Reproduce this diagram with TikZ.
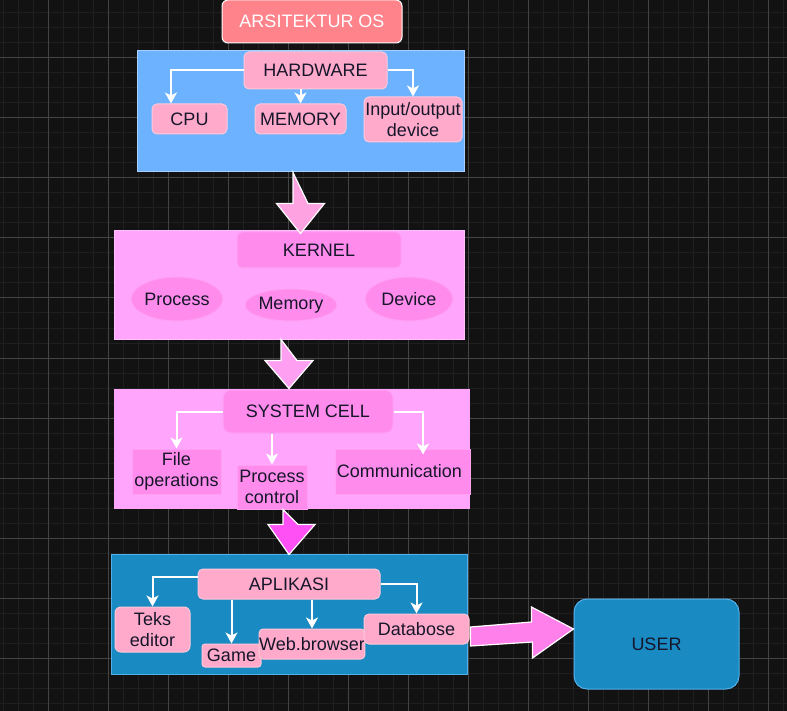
\documentclass[tikz,border=0pt]{standalone}
\usepackage{fontspec}
\setmainfont{Liberation Sans}
\usetikzlibrary{arrows.meta}
\usetikzlibrary{shapes.geometric}
\usetikzlibrary{positioning}

\definecolor{bgcol}{HTML}{121212}
\definecolor{minorcol}{HTML}{1F1F1F}
\definecolor{majorcol}{HTML}{444444}
\definecolor{titlecol}{HTML}{FF838B}
\definecolor{hwcol}{HTML}{6DB2FF}
\definecolor{hwedge}{HTML}{A8D0FF}
\definecolor{pinkcol}{HTML}{FFAACB}
\definecolor{pinkedge}{HTML}{FFC8D8}
\definecolor{kerncol}{HTML}{FFA6FC}
\definecolor{kernin}{HTML}{FF8CEC}
\definecolor{kernedge}{HTML}{FFA0F2}
\definecolor{aplcol}{HTML}{1A8AC2}
\definecolor{apledge}{HTML}{52B1EA}
\definecolor{arrowone}{HTML}{FFA2E2}
\definecolor{arrowtwo}{HTML}{FF9FF2}
\definecolor{arrowthree}{HTML}{FF50F5}
\definecolor{arrowfour}{HTML}{FF80EA}
\definecolor{txtcol}{HTML}{16162A}

\tikzset{
  minorline/.style={draw=minorcol, line width=1pt},
  majorline/.style={draw=majorcol, line width=1pt},
  container/.style={rectangle, inner sep=0pt, line width=1pt},
  item/.style={rectangle, rounded corners=5pt, fill=pinkcol, draw=pinkedge,
    line width=1pt, inner sep=0pt, align=center, text=txtcol},
  kitem/.style={rectangle, fill=kernin, draw=kernedge, line width=1pt,
    inner sep=0pt, align=center, text=txtcol},
  kblob/.style={ellipse, fill=kernin, draw=kernedge, line width=1pt,
    inner sep=0pt, text=txtcol},
  flow/.style={draw=white, line width=2pt,
    -{Stealth[length=11pt, width=12pt, inset=3pt]}},
  bigarrow/.style={draw=white, line width=1.2pt, line join=miter},
}

\begin{document}
\begin{tikzpicture}[x=1pt, y=-1pt, font=\fontsize{18}{21}\selectfont]
    \useasboundingbox (0,0) rectangle (787,711);
    \fill[bgcol] (0,0) rectangle (787,711);
    % grid
    \foreach \gx in {3,18,...,783} \draw[minorline] (\gx,0) -- (\gx,711);
    \foreach \gy in {13,28,...,703} \draw[minorline] (0,\gy) -- (787,\gy);
    \foreach \gx in {48,108,...,768} \draw[majorline] (\gx,0) -- (\gx,711);
    \foreach \gy in {58,118,...,658} \draw[majorline] (0,\gy) -- (787,\gy);

    % containers
    \node[container, fill=hwcol, draw=hwedge, minimum width=327pt, minimum height=121pt] (hwbox) at (300.5, 111.5) {};
    \node[container, fill=kerncol, draw=kerncol!70!white, minimum width=350pt, minimum height=108pt] (kbox) at (289, 285) {};
    \node[container, fill=kerncol, minimum width=356pt, minimum height=120pt] (scbox) at (292, 449) {};
    \node[container, fill=aplcol, draw=apledge, minimum width=356pt, minimum height=120pt] (aplbox) at (289, 614) {};

    % title
    \node[item, fill=titlecol, draw=white, rounded corners=6pt, text=white, minimum width=180pt, minimum height=43pt] (title) at (312, 21.5) {ARSITEKTUR OS};

    % hardware
    \node[item, minimum width=143pt, minimum height=37pt] (hardware) at (315.5, 70.5) {HARDWARE};
    \node[item, minimum width=75pt, minimum height=30pt] (cpu) at (189.5, 119) {CPU};
    \node[item, minimum width=91pt, minimum height=30pt] (memory) at (300.5, 119) {MEMORY};
    \node[item, minimum width=98pt, minimum height=45pt] (io) at (413, 119.5) {Input/output\\device};

    % kernel
    \node[kitem, rounded corners=5pt, minimum width=164pt, minimum height=36pt] (kernel) at (319, 250) {KERNEL};
    \node[kblob, minimum width=89pt, minimum height=44pt] (process) at (177, 299) {Process};
    \node[kblob, minimum width=88pt, minimum height=32pt] (kmemory) at (291, 305) {Memory};
    \node[kblob, minimum width=88pt, minimum height=44pt] (device) at (409, 299) {Device};

    % system cell
    \node[kitem, rounded corners=8pt, minimum width=170pt, minimum height=43pt] (syscell) at (308, 411.5) {SYSTEM CELL};
    \node[kitem, minimum width=89pt, minimum height=45pt] (fileop) at (176.5, 471.5) {File\\operations};
    \node[kitem, minimum width=70pt, minimum height=44pt] (pcontrol) at (272, 487) {Process\\control};
    \node[kitem, minimum width=135pt, minimum height=45pt] (comm) at (402.5, 471.5) {Communication\hspace{6pt}};

    % aplikasi
    \node[item, minimum width=182pt, minimum height=30pt] (aplikasi) at (289, 584) {APLIKASI};
    \node[item, rounded corners=6pt, minimum width=75pt, minimum height=45pt] (teks) at (152.5, 629.5) {Teks\\editor};
    \node[item, rounded corners=3pt, minimum width=59pt, minimum height=23pt] (game) at (231.5, 655.5) {Game};
    \node[item, rounded corners=4pt, minimum width=104pt, minimum height=30pt] (web) at (312, 644) {Web.browser};
    \node[item, minimum width=105pt, minimum height=30pt] (db) at (416.5, 629) {Databose};

    % user
    \node[container, fill=aplcol, draw=apledge, rounded corners=13pt, text=txtcol, minimum width=165pt, minimum height=90pt] (user) at (656.5, 644) {USER};

    % small connectors
    \draw[flow] (hardware.west) -| ([xshift=-18.5pt]cpu.north);
    \draw[flow] (memory.north |- hardware.south) -- (memory.north);
    \draw[flow] (hardware.east) -| (io.north);
    \draw[flow] (syscell.west) -| (fileop.north);
    \draw[flow] (pcontrol.north |- syscell.south) -- (pcontrol.north);
    \draw[flow, shorten >=-6pt] (syscell.east) -| ([xshift=20.5pt]comm.north);
    \draw[flow] ([yshift=7pt]aplikasi.west) -| (teks.north);
    \draw[flow] (game.north |- aplikasi.south) -- (game.north);
    \draw[flow] (web.north |- aplikasi.south) -- (web.north);
    \draw[flow] (aplikasi.east) -| (db.north);

    % big arrows
    \draw[bigarrow, fill=arrowone] ([xshift=-7.5pt]hwbox.south) -- ++(0,31) -- ++(-16.5,0) -- ++(24,30) -- ++(24,-30) -- ++(-16.5,0) -- cycle;
    \draw[bigarrow, fill=arrowtwo] ([xshift=-8pt]kbox.south) -- ++(0,21) -- ++(-16,0) -- ++(24,28) -- ++(24,-28) -- ++(-16,0) -- cycle;
    \draw[bigarrow, fill=arrowthree] ([xshift=-9pt]scbox.south) -- ++(0,15) -- ++(-15,0) -- ++(21,30) -- ++(26,-30) -- ++(-17,0) -- cycle;
    \draw[bigarrow, fill=arrowfour] ([xshift=1pt,yshift=2pt]db.east) -- ++(0,19) -- ++(62,-4) -- ++(0,16) -- ([yshift=15pt]user.west) -- ++(-42,-22) -- ++(0,15) -- cycle;
  \end{tikzpicture}
\end{document}
